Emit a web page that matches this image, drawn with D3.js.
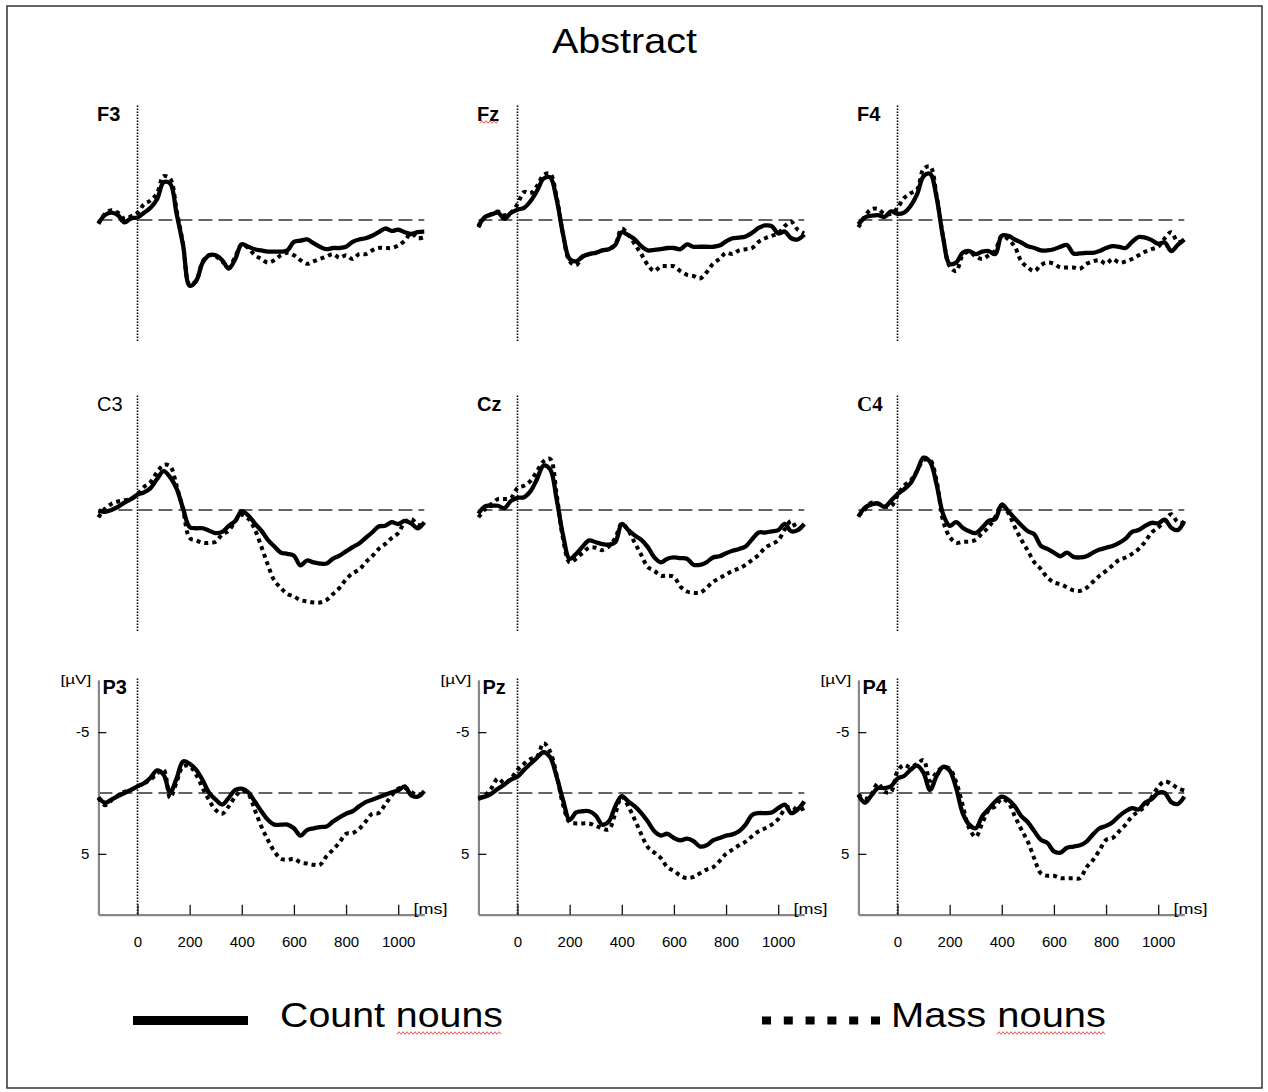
<!DOCTYPE html>
<html>
<head>
<meta charset="utf-8">
<script src="https://cdn.jsdelivr.net/npm/d3@7"></script>
<style>
  body { margin: 0; background: #fff; }
  svg { display: block; font-family: "Liberation Sans", Arial, sans-serif; }
</style>
</head>
<body>
<svg id="chart" width="1268" height="1092"></svg>
<script>
// Sample times (ms) shared by every waveform
const times = [-150, -125, -100, -75, -50, -25, 0, 25, 50, 75,
  100, 125, 150, 175, 200, 225, 250, 275, 300, 325,
  350, 375, 400, 425, 450, 475, 500, 525, 550, 575,
  600, 625, 650, 675, 700, 725, 750, 775, 800, 825,
  850, 875, 900, 925, 950, 975, 1000, 1025, 1050, 1075,
  1100];

// Amplitudes in µV (negative plotted up)
const countF3 = [0.3, -0.4, -0.6, -0.4, 0.2, -0.15, -0.2, -0.6, -1.0, -1.7,
  -3.1, -3.0, -0.5, 2.1, 5.4, 5.0, 3.5, 2.9, 2.9, 3.3,
  4.0, 3.2, 2.0, 2.2, 2.4, 2.5, 2.6, 2.6, 2.6, 2.5,
  1.8, 1.7, 1.6, 1.9, 2.2, 2.4, 2.3, 2.3, 2.2, 1.8,
  1.6, 1.5, 1.3, 1.0, 0.7, 0.9, 0.8, 1.0, 1.15, 1.0,
  0.95];
const massF3 = [0.3, -0.5, -0.8, -0.6, -0.1, -0.3, -0.6, -1.3, -1.6, -2.2,
  -3.6, -3.4, -0.8, 2.0, 5.3, 5.0, 3.4, 2.9, 3.0, 3.4,
  3.9, 3.0, 2.0, 2.3, 2.9, 3.2, 3.5, 3.3, 2.9, 2.7,
  2.9, 3.3, 3.6, 3.4, 3.2, 3.0, 2.8, 3.1, 2.9, 3.2,
  2.8, 2.8, 2.5, 2.3, 2.3, 2.3, 2.1, 1.7, 1.1, 1.5,
  1.4];
const countFz = [0.5, -0.25, -0.45, -0.6, -0.1, -0.6, -0.85, -1.0, -1.55, -2.4,
  -3.4, -3.5, -1.7, 1.2, 3.2, 3.4, 3.0, 2.8, 2.7, 2.5,
  2.4, 2.05, 1.0, 1.25, 1.6, 2.15, 2.5, 2.45, 2.4, 2.3,
  2.3, 2.4, 2.0, 2.2, 2.2, 2.2, 2.2, 2.1, 1.75, 1.5,
  1.45, 1.35, 1.05, 0.65, 0.45, 0.5, 1.1, 0.95, 1.5, 1.6,
  1.2];
const massFz = [0.6, -0.2, -0.5, -0.7, -0.4, -0.6, -1.3, -2.3, -2.2, -2.8,
  -3.7, -3.8, -1.9, 1.2, 3.4, 3.7, 3.0, 2.8, 2.7, 2.5,
  2.4, 2.0, 0.7, 1.2, 2.0, 2.8, 3.7, 4.2, 3.8, 3.8,
  3.8, 4.2, 4.5, 4.6, 4.8, 4.3, 3.6, 3.2, 2.7, 2.8,
  2.5, 2.4, 2.3, 1.8, 1.5, 1.3, 1.1, 0.5, 0.15, 0.8,
  1.1];
const countF4 = [0.35, -0.2, -0.35, -0.4, -0.25, -0.7, -0.5, -0.6, -1.15, -2.1,
  -3.6, -3.8, -1.85, 1.45, 3.6, 3.5, 2.7, 2.55, 2.8, 2.6,
  2.55, 2.8, 1.3, 1.3, 1.6, 1.85, 2.15, 2.3, 2.5, 2.5,
  2.4, 2.2, 2.05, 2.75, 2.75, 2.7, 2.7, 2.55, 2.3, 2.15,
  2.2, 2.3, 1.8, 1.4, 1.45, 1.65, 1.95, 1.85, 2.55, 2.05,
  1.6];
const massF4 = [0.6, -0.3, -0.9, -0.9, -0.5, -0.5, -1.0, -1.8, -2.2, -2.5,
  -4.2, -4.4, -2.0, 1.4, 3.8, 4.2, 2.9, 2.6, 3.0, 3.2,
  2.9, 2.5, 1.3, 1.6, 2.2, 3.4, 3.9, 4.2, 3.7, 3.5,
  3.6, 3.9, 3.9, 3.9, 4.0, 3.6, 3.4, 3.3, 3.6, 3.2,
  3.5, 3.4, 3.2, 2.9, 2.6, 2.4, 2.2, 1.5, 1.0, 1.8,
  1.7];
const countC3 = [0.05, 0.15, 0.0, -0.25, -0.6, -0.9, -1.25, -1.45, -1.8, -2.55,
  -3.2, -2.7, -1.75, -0.1, 1.4, 1.5, 1.5, 1.7, 1.9, 1.8,
  1.3, 0.9, 0.1, 0.45, 1.1, 1.7, 2.45, 3.0, 3.5, 3.6,
  3.75, 4.55, 4.15, 4.3, 4.4, 4.4, 4.0, 3.75, 3.4, 3.05,
  2.75, 2.3, 1.85, 1.35, 1.3, 1.0, 1.15, 0.9, 1.1, 1.5,
  1.0];
const massC3 = [0.6, -0.1, -0.5, -0.7, -0.8, -0.9, -1.3, -1.9, -2.3, -3.1,
  -3.7, -3.6, -2.0, 0.0, 2.3, 2.5, 2.7, 2.7, 2.6, 2.0,
  1.7, 0.9, 0.4, 0.7, 1.6, 3.0, 4.5, 5.8, 6.4, 6.9,
  7.1, 7.4, 7.5, 7.6, 7.6, 7.4, 6.9, 6.4, 5.7, 5.2,
  4.9, 4.3, 3.8, 3.2, 2.8, 2.3, 1.9, 1.0, 0.75, 1.2,
  1.3];
const countCz = [0.3, -0.3, -0.35, -0.35, -0.15, -0.75, -1.0, -1.05, -1.55, -2.55,
  -3.65, -3.35, -0.9, 2.1, 4.0, 3.6, 3.0, 2.5, 2.65, 2.8,
  2.85, 2.65, 1.15, 1.65, 2.1, 2.45, 3.05, 3.9, 4.3, 4.0,
  3.9, 3.95, 4.0, 4.5, 4.5, 4.3, 3.9, 3.8, 3.55, 3.35,
  3.2, 3.0, 2.4, 1.85, 1.85, 1.75, 1.65, 1.15, 1.75, 1.65,
  1.15];
const massCz = [0.6, -0.05, -0.5, -0.9, -0.9, -1.0, -1.8, -2.0, -2.4, -3.2,
  -4.0, -4.2, -1.3, 2.4, 4.3, 4.0, 3.5, 3.1, 3.1, 3.3,
  3.0, 2.3, 1.1, 1.7, 2.7, 3.7, 4.7, 5.0, 5.4, 5.4,
  5.5, 6.3, 6.7, 6.8, 6.8, 6.4, 5.9, 5.6, 5.3, 5.0,
  4.8, 4.5, 4.1, 3.7, 3.1, 2.8, 2.5, 1.6, 0.9, 1.6,
  1.2];
const countC4 = [0.55, -0.2, -0.45, -0.55, -0.25, -0.75, -1.3, -1.7, -2.2, -3.2,
  -4.3, -3.95, -2.1, 0.35, 1.3, 1.0, 1.45, 1.75, 1.9, 1.45,
  0.9, 0.75, -0.45, 0.1, 0.7, 1.25, 1.75, 2.0, 2.95, 3.2,
  3.5, 3.8, 3.5, 3.85, 3.9, 3.8, 3.5, 3.25, 3.1, 2.95,
  2.7, 2.35, 1.8, 1.65, 1.3, 1.05, 1.1, 0.8, 1.45, 1.65,
  0.9];
const massC4 = [0.5, -0.05, -0.6, -0.5, -0.3, -0.3, -1.2, -2.0, -2.4, -3.2,
  -4.1, -4.1, -2.4, 0.9, 2.2, 2.7, 2.6, 2.6, 2.45, 1.9,
  1.4, 0.55, -0.4, 0.25, 1.4, 2.45, 3.35, 4.3, 4.85, 5.55,
  5.95, 6.1, 6.35, 6.6, 6.65, 6.4, 5.9, 5.4, 5.0, 4.55,
  4.1, 3.9, 3.6, 3.2, 2.6, 1.85, 1.45, 0.9, 0.35, 1.0,
  1.05];
const countP3 = [0.35, 0.8, 0.55, 0.25, 0.0, -0.25, -0.55, -0.8, -1.25, -1.85,
  -1.5, -0.05, -1.2, -2.6, -2.4, -1.9, -1.05, 0.0, 0.55, 0.95,
  0.4, -0.25, -0.35, -0.05, 0.7, 1.5, 2.2, 2.6, 2.6, 2.6,
  2.9, 3.5, 3.05, 2.9, 2.8, 2.75, 2.35, 2.0, 1.7, 1.5,
  1.1, 0.75, 0.55, 0.35, 0.15, -0.05, -0.2, -0.55, 0.2, 0.3,
  -0.15];
const massP3 = [0.4, 1.0, 0.6, 0.2, -0.1, -0.25, -0.55, -0.8, -1.1, -1.6,
  -1.9, 0.4, -0.9, -2.2, -2.2, -1.5, -0.4, 0.6, 1.4, 1.7,
  1.1, 0.3, -0.2, 0.1, 1.4, 2.75, 3.85, 4.8, 5.4, 5.5,
  5.4, 5.7, 5.8, 5.9, 5.9, 5.2, 4.65, 4.05, 3.35, 3.3,
  2.95, 2.35, 1.7, 1.65, 0.95, 0.2, -0.35, -0.4, -0.1, 0.25,
  0.0];
const countPz = [0.4, 0.3, 0.05, -0.35, -0.7, -1.1, -1.35, -1.9, -2.4, -2.9,
  -3.35, -2.95, -1.35, 0.6, 2.2, 1.6, 1.5, 1.5, 1.85, 2.6,
  2.35, 1.1, 0.25, 0.7, 1.1, 1.65, 2.35, 3.15, 3.5, 3.35,
  3.7, 3.9, 3.75, 3.95, 4.4, 4.3, 3.9, 3.7, 3.5, 3.4,
  3.15, 2.6, 1.8, 1.65, 1.65, 1.6, 1.25, 0.95, 1.65, 1.35,
  0.7];
const massPz = [0.5, 0.2, -0.4, -1.2, -0.8, -1.2, -1.9, -2.4, -2.8, -3.0,
  -4.1, -3.4, -1.5, 1.0, 2.4, 2.5, 2.5, 2.5, 2.7, 2.9,
  3.0, 1.7, 0.3, 1.1, 2.2, 3.4, 4.45, 4.9, 5.35, 6.1,
  6.4, 6.8, 7.0, 6.9, 6.6, 6.3, 6.1, 5.6, 5.0, 4.65,
  4.3, 4.0, 3.55, 3.15, 2.9, 2.6, 2.15, 1.35, 1.1, 1.4,
  1.25];
const countP4 = [0.15, 0.8, 0.2, -0.4, -0.4, -0.55, -1.2, -1.4, -1.9, -2.25,
  -1.65, -0.25, -1.4, -2.15, -1.85, -0.4, 1.65, 2.6, 2.9, 1.9,
  1.3, 0.7, 0.3, 0.55, 1.1, 1.9, 2.4, 3.15, 3.85, 4.1,
  4.8, 4.9, 4.5, 4.4, 4.3, 4.0, 3.4, 2.9, 2.7, 2.4,
  1.9, 1.5, 1.25, 1.35, 0.8, 0.5, 0.0, 0.0, 0.75, 0.9,
  0.3];
const massP4 = [0.1, 0.5, 0.1, -0.8, -0.1, -0.1, -1.8, -2.3, -2.1, -2.4,
  -2.7, -1.0, -1.7, -2.1, -2.0, -0.9, 1.0, 2.9, 3.6, 2.5,
  1.4, 1.1, 0.5, 0.8, 1.9, 3.0, 4.0, 5.4, 6.6, 6.8,
  6.8, 7.0, 7.0, 7.0, 7.0, 6.1, 5.5, 4.7, 3.85, 3.7,
  3.15, 2.6, 1.9, 1.5, 1.1, 0.35, -0.5, -0.95, -0.75, -0.4,
  -0.2];

const electrodes = ["F3", "Fz", "F4", "C3", "Cz", "C4", "P3", "Pz", "P4"];
const countSeries = [countF3, countFz, countF4, countC3, countCz, countC4, countP3, countPz, countP4];
const massSeries = [massF3, massFz, massF4, massC3, massCz, massC4, massP3, massPz, massP4];
const xTicks = [0, 200, 400, 600, 800, 1000];
const yTicks = [-5, 5];
const legendLabels = ["Count nouns", "Mass nouns"];

// Layout
const colZero = [137.5, 517.5, 897.5]; // x of 0 ms per column
const rowZero = [220, 510, 793];       // y of 0 µV per row
const msPx = 0.2607, uvPx = 12.17;

const svg = d3.select("#chart");

// outer frame
svg.append("rect")
  .attr("x", 7).attr("y", 6).attr("width", 1255).attr("height", 1082)
  .attr("fill", "none").attr("stroke", "#333").attr("stroke-width", 1.5);

svg.append("text")
  .attr("x", 552).attr("y", 53)
  .attr("font-size", 35)
  .attr("textLength", 145).attr("lengthAdjust", "spacingAndGlyphs")
  .text("Abstract");

// red spell-check squiggle, as in the word-processor screenshot
function squiggle(x1, x2, y) {
  const pts = [];
  for (let px = x1, k = 0; px <= x2; px += 2, k++) pts.push([px, y + (k % 2 ? -1.3 : 1.3)]);
  svg.append("path").attr("d", d3.line()(pts))
    .attr("fill", "none").attr("stroke", "#f04040").attr("stroke-width", 0.9);
}

electrodes.forEach((name, i) => {
  const cx = colZero[i % 3];
  const cy = rowZero[Math.floor(i / 3)];
  const bottom = i >= 6;

  const x = d3.scaleLinear().domain([-150, 1100]).range([cx - 150 * msPx, cx + 1100 * msPx]);
  const y = d3.scaleLinear().domain([-10, 10]).range([cy - 10 * uvPx, cy + 10 * uvPx]);
  const g = svg.append("g");

  // baseline (0 µV)
  g.append("line")
    .attr("x1", x(-150)).attr("x2", x(1100)).attr("y1", y(0)).attr("y2", y(0))
    .attr("stroke", "#333").attr("stroke-width", 1.3).attr("stroke-dasharray", "14 6");

  // stimulus onset
  g.append("line")
    .attr("x1", x(0)).attr("x2", x(0)).attr("y1", y(-9.4)).attr("y2", y(10))
    .attr("stroke", "#000").attr("stroke-width", 1.6).attr("stroke-dasharray", "1.5 1.5");

  if (bottom) {
    const yA = y.copy().domain([-9.3, 10]).range([y(-9.3), y(10)]);
    const ya = g.append("g")
      .attr("transform", `translate(${x(-150)},0)`)
      .call(d3.axisLeft(yA).tickValues(yTicks).tickSize(-8).tickSizeOuter(0)
        .tickPadding(9).tickFormat(d => String(d)));
    const xa = g.append("g")
      .attr("transform", `translate(0,${y(10)})`)
      .call(d3.axisBottom(x).tickValues(xTicks).tickSize(-10).tickSizeOuter(0)
        .tickPadding(22).tickFormat(d => String(d)));
    [ya, xa].forEach(a => {
      a.select(".domain").attr("stroke", "#888").attr("stroke-width", 2.2);
      a.selectAll(".tick line").attr("stroke", "#111").attr("stroke-width", 1.3);
      a.selectAll(".tick text").attr("fill", "#000")
        .attr("font-family", "'Liberation Sans', Arial, sans-serif").attr("font-size", 15);
    });

    g.append("text")
      .attr("x", x(-150) - 7).attr("y", y(-9.3) + 4)
      .attr("text-anchor", "end").attr("font-size", 13)
      .attr("textLength", 31).attr("lengthAdjust", "spacingAndGlyphs")
      .text("[µV]");
    g.append("text")
      .attr("x", cx + 276).attr("y", y(10) - 1)
      .attr("font-size", 14)
      .attr("textLength", 34).attr("lengthAdjust", "spacingAndGlyphs")
      .text("[ms]");
  }

  // electrode label
  g.append("text")
    .attr("x", cx + (bottom ? -35 : -40.5)).attr("y", cy - 99)
    .attr("font-size", name === "C4" ? 21 : 20)
    .attr("font-weight", name === "C3" ? "normal" : "bold")
    .attr("font-family", name === "C4" ? "'Liberation Serif', 'Times New Roman', serif" : null)
    .text(name);

  const line = d3.line()
    .x((d, j) => x(times[j]))
    .y(d => y(d))
    .curve(d3.curveCatmullRom.alpha(0.5));

  g.append("path")
    .attr("d", line(massSeries[i]))
    .attr("fill", "none").attr("stroke", "#000")
    .attr("stroke-width", 4).attr("stroke-dasharray", "4 4");

  g.append("path")
    .attr("d", line(countSeries[i]))
    .attr("fill", "none").attr("stroke", "#000")
    .attr("stroke-width", 4.3).attr("stroke-linejoin", "round");
});

squiggle(480, 499, 122);

// legend
svg.append("line")
  .attr("x1", 133).attr("x2", 248).attr("y1", 1020.5).attr("y2", 1020.5)
  .attr("stroke", "#000").attr("stroke-width", 9);
svg.append("text")
  .attr("x", 280).attr("y", 1027).attr("font-size", 35)
  .attr("textLength", 223).attr("lengthAdjust", "spacingAndGlyphs")
  .text(legendLabels[0]);
svg.append("line")
  .attr("x1", 762).attr("x2", 880).attr("y1", 1020.5).attr("y2", 1020.5)
  .attr("stroke", "#000").attr("stroke-width", 8).attr("stroke-dasharray", "9 12.8");
svg.append("text")
  .attr("x", 891).attr("y", 1027).attr("font-size", 35)
  .attr("textLength", 215).attr("lengthAdjust", "spacingAndGlyphs")
  .text(legendLabels[1]);
squiggle(397, 502, 1033);
squiggle(997, 1106, 1033);
</script>
</body>
</html>
